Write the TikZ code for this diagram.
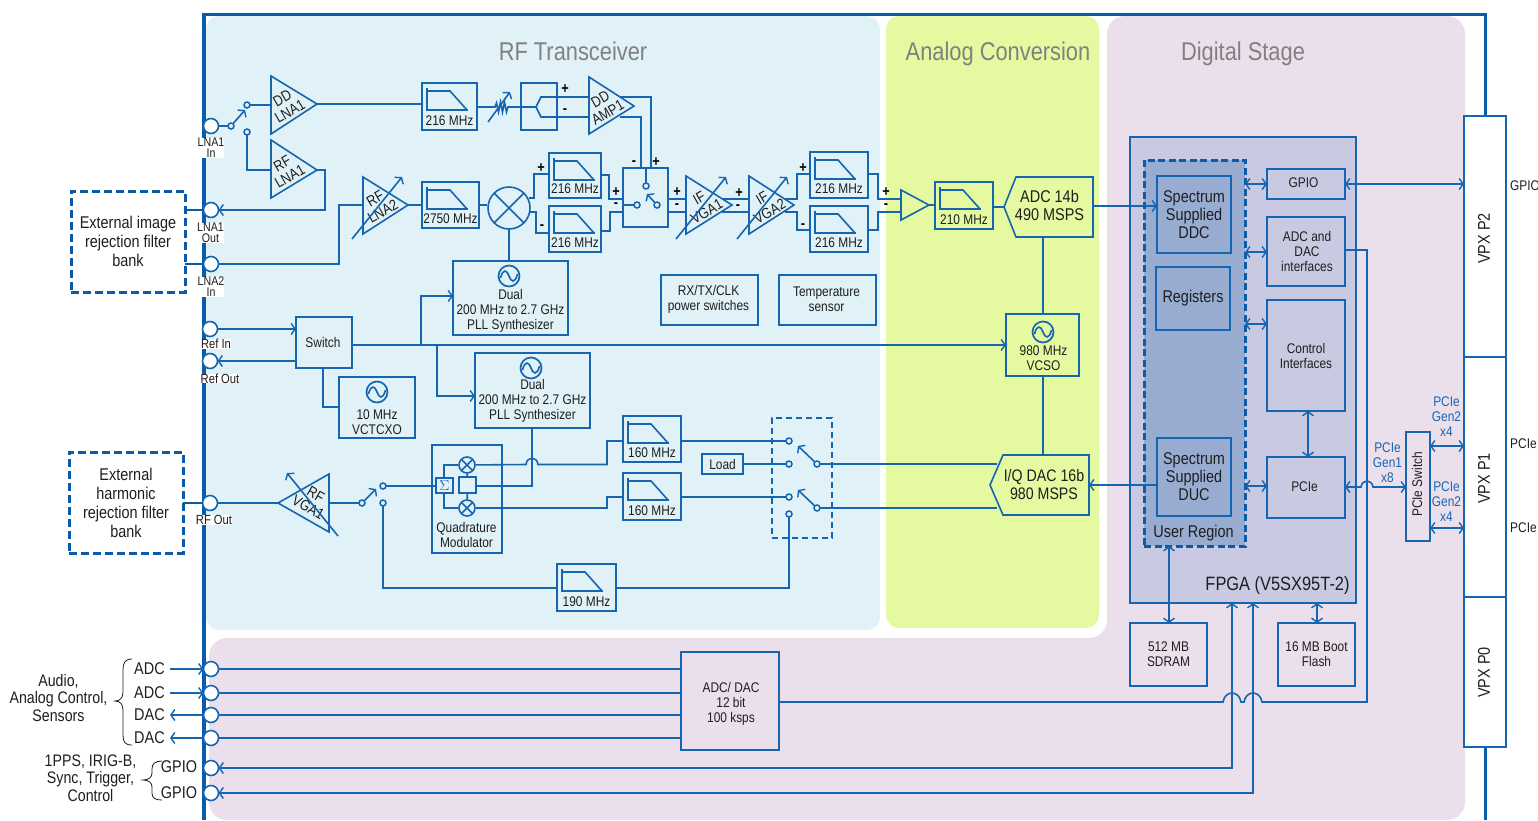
\documentclass[tikz,border=0pt]{standalone}
\usepackage{fontspec}
\setmainfont{Liberation Sans}[FakeStretch=0.85]
\usetikzlibrary{arrows.meta}
\definecolor{ln}{HTML}{1565B0}
\definecolor{fr}{HTML}{0B5BAB}
\definecolor{rfbg}{HTML}{E0F2F8}
\definecolor{acbg}{HTML}{E4F9A0}
\definecolor{dgbg}{HTML}{ECDFEC}
\definecolor{fpgabg}{HTML}{C9CAE2}
\definecolor{userbg}{HTML}{98ACD2}
\definecolor{ttl}{HTML}{808080}
\definecolor{txt}{HTML}{1E1E1E}
\newcommand\bx[7][]{\node[box,minimum width={(#5-#3)*1pt},minimum height={(#6-#4)*1pt},#1] (#2) at ({(#3+#5)/2},{(#4+#6)/2}) {#7};}
\newcommand\filt[6]{\node[box,minimum width={(#5-#3)*1pt},minimum height={(#6-#4)*1pt}] (#2) at ({(#3+#5)/2},{(#4+#6)/2}) {};
 \draw[wire] ({#3+5},{#4+5}) -- ({#3+5},{#4+27}) -- ({#3+46},{#4+27});
 \draw[wire] ({#3+5},{#4+8}) -- ({#3+28},{#4+8}) -- ({#3+45},{#4+27});
 \node[t14] (#2-l) at ({(#3+#5)/2},{#6-9.5}) {#1};}
\newcommand\ampl[6]{\draw[wire,line join=miter] (#2,#3) -- (#2,#4) -- (#5,#6) -- cycle;
 \coordinate (#1-i) at (#2,#6); \coordinate (#1-o) at (#5,#6);}
\newcommand\sinewave[3]{\node[circle,draw=ln,line width=1.7pt,minimum size=21pt,inner sep=0pt] (#1) at (#2,#3) {};
 \draw[wire] ({#2-8.5},{#3+2}) .. controls ({#2-6},{#3-8}) and ({#2-2},{#3-6}) .. (#2,#3) .. controls ({#2+2},{#3+6}) and ({#2+6},{#3+8}) .. ({#2+8.5},{#3-2});}
\newcommand\mixer[4]{\node[circle,draw=ln,line width=1.6pt,minimum size={2*#4*1pt},inner sep=0pt] (#1) at (#2,#3) {};
 \draw[wire] ({#2-0.707*#4},{#3-0.707*#4}) -- ({#2+0.707*#4},{#3+0.707*#4});
 \draw[wire] ({#2-0.707*#4},{#3+0.707*#4}) -- ({#2+0.707*#4},{#3-0.707*#4});}
\tikzset{
 wire/.style={draw=ln,line width=1.6pt,line join=miter},
 ar/.style={wire,-{Straight Barb[length=4pt,width=11pt,line width=1.4pt]}},
 dar/.style={wire,{Straight Barb[length=4pt,width=11pt,line width=1.4pt]}-{Straight Barb[length=4pt,width=11pt,line width=1.4pt]}},
 box/.style={draw=ln,line width=1.6pt,inner sep=0pt,outer sep=0pt,align=center,text=txt,font=\fontsize{14}{15}\selectfont},
 t14/.style={inner sep=0pt,align=center,text=txt,font=\fontsize{14}{15}\selectfont},
 t12/.style={inner sep=0pt,align=center,text=txt,fill=white,font=\fontsize{12.5}{11}\selectfont},
 t13w/.style={inner sep=0pt,align=center,text=txt,fill=white,font=\fontsize{13.2}{13}\selectfont},
 t17/.style={inner sep=0pt,align=center,text=txt,font=\fontsize{17}{18}\selectfont},
 amptxt/.style={inner sep=0pt,align=center,text=txt,font=\fontsize{15}{15}\selectfont},
 pm/.style={inner sep=0pt,text=black,font=\bfseries\fontsize{15}{15}\selectfont},
 title/.style={inner sep=0pt,anchor=base,text=ttl,font=\fontsize{25.7}{26}\selectfont},
 blue/.style={inner sep=0pt,align=center,text=ln,font=\fontsize{14}{15}\selectfont},
 port/.style={circle,draw=ln,line width=1.6pt,fill=white,minimum size=15pt,inner sep=0pt,outer sep=0pt},
 ct/.style={circle,draw=ln,line width=1.5pt,minimum size=6pt,inner sep=0pt,outer sep=0pt},
 brace/.style={draw=txt,line width=0.8pt},
}
\begin{document}
\begin{tikzpicture}[x=1pt,y=-1pt]
\useasboundingbox (0,0) rectangle (1538,820);
% regions
\fill[rfbg,rounded corners=13pt] (206,16) rectangle (880,630);
\fill[acbg,rounded corners=13pt] (886,16) rectangle (1099,628);
\fill[dgbg,rounded corners=18pt] (1107,16) -- (1465,16) -- (1465,820) -- (209,820) -- (209,638) -- (1107,638) -- cycle;
\fill[dgbg] (1107,56) rectangle (1120,630);
\fill[dgbg] (1100,638) rectangle (1115,660);
% frame
\draw[fr,line width=3.3pt] (204,820) -- (204,14.5) -- (1485.5,14.5) -- (1485.5,116);
\draw[fr,line width=3.3pt] (1485.5,747) -- (1485.5,820);
% titles
\node[title] (t1) at (573,60) {RF Transceiver};
\node[title] (t2) at (998,60) {Analog Conversion};
\node[title] (t3) at (1243,60) {Digital Stage};
% FPGA
\bx[fill=fpgabg]{fpga}{1130}{137}{1356}{603}{}
\node[inner sep=0pt,text=txt,font=\fontsize{19.3}{19}\selectfont,anchor=base] (fpgal) at (1277.5,590) {FPGA (V5SX95T-2)};
\bx[fill=userbg,line width=3pt,dash pattern=on 7pt off 3.5pt,draw=fr]{user}{1144}{160}{1245}{546}{}
\node[t17,anchor=base] (userl) at (1193.5,537) {User Region};
\bx[font=\fontsize{17}{18}\selectfont,text=txt]{ddc}{1157}{176}{1231}{253}{\raisebox{-1pt}{\parbox{70pt}{\centering Spectrum\\Supplied\\DDC}}}
\bx[font=\fontsize{17}{18}\selectfont]{regs}{1156}{267}{1230}{330}{Registers}
\bx[font=\fontsize{17}{18}\selectfont]{duc}{1157}{438}{1231}{516}{\raisebox{-1pt}{\parbox{70pt}{\centering Spectrum\\Supplied\\DUC}}}
\bx{gpio}{1267}{169}{1345}{199}{}
\node[t14] (gpiol) at (1303.5,182.5) {GPIO};
\bx{adcif}{1267}{217}{1345}{286}{}
\node[t14] (adcifl) at (1307,251) {ADC and\\DAC\\interfaces};
\bx{ctrl}{1267}{300}{1345}{411}{Control\\Interfaces}
\bx{pcie}{1267}{457}{1345}{518}{}
\node[t14] (pciel) at (1304.5,487) {PCIe};
\bx{sdram}{1130}{623}{1207}{686}{512 MB\\SDRAM}
\bx{flash}{1278}{623}{1355}{686}{16 MB Boot\\Flash}
% VPX
\bx[fill=white]{vp2}{1464}{116}{1506}{357}{}
\bx[fill=white]{vp1}{1464}{357}{1506}{597}{}
\bx[fill=white]{vp0}{1464}{597}{1506}{747}{}
\node[inner sep=0pt,text=txt,rotate=90,font=\fontsize{17}{17}\selectfont] (vp2l) at (1484,238.5) {VPX P2};
\node[inner sep=0pt,text=txt,rotate=90,font=\fontsize{17}{17}\selectfont] (vp1l) at (1484,478.5) {VPX P1};
\node[inner sep=0pt,text=txt,rotate=90,font=\fontsize{17}{17}\selectfont] (vp0l) at (1484,672.5) {VPX P0};
\node[t14,anchor=west] (egpio) at (1510,185.5) {GPIO};
\node[t14,anchor=west] (epcie1) at (1510,443.5) {PCIe};
\node[t14,anchor=west] (epcie2) at (1510,527.5) {PCIe};
\bx{psw}{1406}{432}{1430}{541}{}
\node[t14,rotate=90] (pswl) at (1417,484.5) {PCIe Switch};
\node[blue] (g2a) at (1446.5,416.5) {PCIe\\Gen2\\x4};
\node[blue] (g1) at (1387.5,462.5) {PCIe\\Gen1\\x8};
\node[blue] (g2b) at (1446.5,501.5) {PCIe\\Gen2\\x4};
% FPGA links
\draw[dar] (user.east |- gpio) -- (gpio.west);
\draw[dar] (user.east |- 0,252) -- (adcif.west |- 0,252);
\draw[dar] (user.east |- 0,324) -- (ctrl.west |- 0,324);
\draw[dar] (user.east |- 0,486) -- (pcie.west |- 0,486);
\draw[dar] (ctrl.south -| 1308,0) -- (pcie.north -| 1308,0);
\draw[dar] (gpio.east |- 0,184) -- (vp2.west |- 0,184);
\draw[dar] (pcie.east |- 0,487) -- (1361,487) .. controls (1362,479) and (1372,479) .. (1373,487) -- (psw.west |- 0,487);
\draw[dar] (psw.east |- 0,446) -- (vp1.west |- 0,446);
\draw[dar] (psw.east |- 0,528) -- (vp1.west |- 0,528);
\draw[dar] (user.south -| 1169,0) -- (sdram.north -| 1169,0);
\draw[dar] (fpga.south -| 1317,0) -- (flash.north -| 1317,0);
% ports
\node[port] (lna1in) at (211,126) {};
\node[port] (lna1out) at (211,210) {};
\node[port] (lna2in) at (211,264) {};
\node[port] (refin) at (210,329) {};
\node[port] (refout) at (210,361) {};
\node[port] (rfout) at (210,503) {};
\node[port] (p1) at (211,669) {};
\node[port] (p2) at (211,693) {};
\node[port] (p3) at (211,715) {};
\node[port] (p4) at (211,738) {};
\node[port] (p5) at (211,768) {};
\node[port] (p6) at (211,793) {};
\node[t12] (l1) at (211,148) {LNA1\\In};
\node[t12] (l2) at (210.5,233) {LNA1\\Out};
\node[t12] (l3) at (211,287) {LNA2\\In};
\node[t13w] (l4) at (216,344) {Ref In};
\node[t13w] (l5) at (220,378.5) {Ref Out};
\node[t13w] (l6) at (214,520) {RF Out};
% external boxes
\bx[line width=3pt,draw=fr,dash pattern=on 8pt off 4pt,font=\fontsize{17}{19}\selectfont]{ext1}{71}{191}{185}{292}{\raisebox{-1pt}{\parbox{110pt}{\centering External image\\rejection filter\\bank}}}
\bx[line width=3pt,draw=fr,dash pattern=on 8pt off 4pt,font=\fontsize{17}{19}\selectfont]{ext2}{69}{452}{183}{553}{\raisebox{-1pt}{\parbox{110pt}{\centering External\\harmonic\\rejection filter\\bank}}}
\draw[fr,line width=2pt] (ext1.east |- lna1out) -- (lna1out);
\draw[fr,line width=2pt] (ext1.east |- lna2in) -- (lna2in);
\draw[fr,line width=2pt] (ext2.east |- rfout) -- (rfout);
% LNA1 path
\node[ct] (sw1p) at (231,126) {};
\node[ct] (sw1a) at (247,105) {};
\node[ct] (sw1b) at (247,132) {};
\coordinate (sw1t) at (245,110);
\draw[wire] (lna1in) -- (sw1p);
\draw[ar] (sw1p) -- (sw1t);
\ampl{ddlna}{271}{76}{134}{317}{104}
\node[amptxt,rotate=30] (ddlnal) at (286,105) {DD\\LNA1};
\ampl{rflna}{271}{140}{198}{317}{170}
\node[amptxt,rotate=30] (rflnal) at (286,170) {RF\\LNA1};
\draw[wire] (sw1a) -- (ddlna-i |- sw1a);
\draw[wire] (sw1b) |- (rflna-i);
\filt{216 MHz}{f1}{422}{83}{477}{130}
\draw[wire] (ddlna-o) -- (f1.west |- ddlna-o);
\draw[ar] (rflna-o) -- (325,170) |- (lna1out);
% attenuator + balun
\bx{bal}{521}{83}{557}{130}{}
\coordinate (atb) at (489,107);
\draw[wire] (f1.east |- atb) -- (495,107) -- (496.5,103) -- (498.5,112) -- (500.5,102) -- (502.5,112) -- (504.5,102) -- (506.5,112) -- (508,107) -- (bal.west |- atb);
\draw[ar] (488,122) -- (510,92);
\coordinate (balc) at (536,107);
\ampl{amp1}{589}{77}{134}{634}{106}
\node[amptxt,rotate=30] (amp1l) at (604,106) {DD\\AMP1};
\draw[wire] (bal.west |- balc) -- (balc) -- (541,97) -- (amp1-i |- 0,97);
\draw[wire] (balc) -- (541,117) -- (amp1-i |- 0,117);
\node[pm] (bp) at (565,89) {+};
\node[pm] (bm) at (565,111) {-};
% LNA2
\ampl{lna2}{363}{177}{234}{408}{205}
\node[amptxt,rotate=30] (lna2l) at (379,205) {RF\\LNA2};
\draw[ar] (352,239) -- (402,177);
\draw[wire] (lna2in) -| (339,205) -- (lna2-i);
\filt{2750 MHz}{f2}{422}{182}{479}{228}
\draw[wire] (lna2-o) -- (f2.west |- lna2-o);
\mixer{mix}{509}{208}{21}
\draw[wire] (f2.east |- 0,205) -- (mix.west |- 0,205);
\filt{216 MHz}{fa}{549}{153}{601}{198}
\filt{216 MHz}{fb}{549}{206}{601}{252}
\draw[wire] (mix.center |- 0,198) ++(20,0) -- (534,198) -- (534,174) -- (fa.west |- 0,174);
\draw[wire] (mix.center |- 0,212) ++(20,0) -- (536,212) -- (536,233) -- (fb.west |- 0,233);
\node[pm] (ap) at (541,168) {+};
\node[pm] (am) at (542,227) {-};
% IF switch
\bx{ifsw}{623}{168}{668}{227}{}
\node[ct] (is1) at (646,186) {};
\node[ct] (is2) at (637,205) {};
\node[ct] (isp) at (657,205) {};
\draw[wire] (ifsw.north -| is1) -- (is1);
\draw[wire] (ifsw.west |- is2) -- (is2);
\draw[ar] (isp) -- (647,194);
\draw[wire] (fa.east |- 0,175) -- (609,175) -- (609,199) -- (ifsw.west |- 0,199);
\draw[wire] (fb.east |- 0,231) -- (610,231) -- (610,212) -- (ifsw.west |- 0,212);
\node[pm] (c1) at (616,192) {+};
\node[pm] (c2) at (616,205) {-};
\draw[wire] (amp1-o) ++(-14,-9) -- (651,97) -- (ifsw.north -| 651,0);
\draw[wire] (amp1-o) ++(-14,11) -- (641,117) -- (ifsw.north -| 641,0);
\node[pm] (c3) at (634,163) {-};
\node[pm] (c4) at (656,162) {+};
% IF VGAs
\ampl{v1}{686}{176}{234}{732}{205}
\node[amptxt,rotate=30] (v1l) at (703,205) {IF\\VGA1};
\draw[ar] (676,239) -- (726,177);
\ampl{v2}{749}{176}{234}{794}{205}
\node[amptxt,rotate=30] (v2l) at (766,205) {IF\\VGA2};
\draw[ar] (737,239) -- (787,177);
\draw[wire] (ifsw.east |- 0,199) -- (v1-i |- 0,199);
\draw[wire] (ifsw.east |- 0,212) -- (v1-i |- 0,212);
\node[pm] (d1) at (677,192) {+};
\node[pm] (d2) at (677,206) {-};
\draw[wire] (722,199) -- (v2-i |- 0,199);
\draw[wire] (722,212) -- (v2-i |- 0,212);
\node[pm] (d3) at (739,193) {+};
\node[pm] (d4) at (738,207) {-};
\filt{216 MHz}{fc}{810}{152}{868}{198}
\filt{216 MHz}{fd}{810}{206}{868}{252}
\draw[wire] (785,199) -- (797,199) -- (797,174) -- (fc.west |- 0,174);
\draw[wire] (785,212) -- (797,212) -- (797,230) -- (fd.west |- 0,230);
\node[pm] (e1) at (803,168) {+};
\node[pm] (e2) at (803,226) {-};
\ampl{drv}{901}{190}{220}{929}{205}
\draw[wire] (fc.east |- 0,174) -- (878,174) -- (878,199) -- (drv-i |- 0,199);
\draw[wire] (fd.east |- 0,230) -- (878,230) -- (878,212) -- (drv-i |- 0,212);
\node[pm] (e3) at (886,192) {+};
\node[pm] (e4) at (886,206) {-};
\filt{210 MHz}{f210}{935}{182}{993}{229}
\draw[wire] (drv-o) -- (f210.west |- drv-o);
% ADC
\draw[wire] (1016,177) -- (1093,177) -- (1093,237) -- (1016,237) -- (1004,207) -- cycle;
\node[inner sep=0pt,minimum width=89pt,minimum height=60pt,align=center,text=txt,font=\fontsize{17}{18}\selectfont] (adc) at (1049.5,205) {ADC 14b\\490 MSPS};
\draw[wire] (f210.east |- 0,207) -- (1004,207);
\draw[ar] (1093,206) -- (ddc.west |- 0,206);
% synthesisers
\bx{pll1}{453}{261}{568}{335}{}
\sinewave{s1}{509}{276}
\node[t14] (pll1l) at (510.5,310.5) {Dual\\200 MHz to 2.7 GHz\\PLL Synthesizer};
\bx{pll2}{475}{353}{590}{428}{}
\sinewave{s2}{531}{368}
\node[t14] (pll2l) at (532.5,401) {Dual\\200 MHz to 2.7 GHz\\PLL Synthesizer};
\draw[wire] (mix) -- (pll1.north -| mix);
\bx{rtc}{661}{275}{758}{325}{}
\node[t14] (rtcl) at (708.5,299) {RX/TX/CLK\\power switches};
\bx{tmp}{779}{275}{876}{325}{}
\node[t14] (tmpl) at (826.5,299) {Temperature\\sensor};
\bx{sw}{296}{317}{352}{368}{}
\node[t14] (swl) at (323,342) {Switch};
\bx{tcxo}{339}{377}{415}{438}{}
\sinewave{s3}{377}{392}
\node[t14] (tcxol) at (377,422) {10 MHz\\VCTCXO};
\bx{vcso}{1006}{314}{1079}{376}{}
\sinewave{s4}{1043}{332}
\node[t14] (vcsol) at (1043.5,358.5) {980 MHz\\VCSO};
\draw[ar] (refin) -- (sw.west |- refin);
\draw[ar] (sw.west |- refout) -- (refout);
\draw[wire] (sw.south -| 323,0) |- (tcxo.west |- 0,407);
\draw[ar] (sw.east |- 0,345) -- (vcso.west |- 0,345);
\draw[ar] (421,345) |- (pll1.west |- 0,296);
\draw[ar] (437,345) |- (pll2.west |- 0,396);
\draw[wire] (vcso.north -| adc.south) ++(-6.5,0) -- (1043,237);
% DAC
\draw[wire] (1003,455) -- (1089,455) -- (1089,515) -- (1003,515) -- (990,485) -- cycle;
\node[inner sep=0pt,minimum width=99pt,minimum height=60pt,align=center,text=txt,font=\fontsize{16.7}{18}\selectfont] (dac) at (1044,484.5) {I/Q DAC 16b\\980 MSPS};
\draw[wire] (vcso.south -| 1043,0) -- (1043,455);
\draw[ar] (duc.west |- 0,485) -- (1089,485);
% Quadrature
\bx{qm}{432}{445}{502}{553}{}
\node[t14] (qml) at (466.5,535) {Quadrature\\Modulator};
\bx[text=ln,font=\fontsize{14}{14}\selectfont]{sig}{436}{478}{453}{493}{$\Sigma$}
\mixer{m1}{467}{465}{8}
\mixer{m2}{467}{508}{8}
\bx{ph}{459}{477}{476}{493}{}
\draw[wire] (sig.north -| 444,0) -- (444,465) -- (m1);
\draw[wire] (sig.south -| 444,0) -- (444,508) -- (m2);
\draw[wire] (m1) -- (ph);
\draw[wire] (m2) -- (ph);
\draw[wire] (ph.east |- 0,486) -- (532,486) -- (pll2.south -| 532,0);
\filt{160 MHz}{g1f}{623}{416}{681}{462}
\filt{160 MHz}{g2f}{623}{473}{681}{520}
\filt{190 MHz}{g3f}{557}{564}{616}{611}
\draw[wire] (m1) -- (526,464.5) .. controls (527,456) and (537,456) .. (538,464.5) -- (607,464.5) -- (607,441) -- (g1f.west |- 0,441);
\draw[wire] (m2) -- (607,508) -- (607,497) -- (g2f.west |- 0,497);
% RF out
\ampl{vga}{329}{474}{532}{278}{503}
\node[amptxt,rotate=-30] (vgal) at (312,501) {RF\\VGA1};
\draw[ar] (338,536) -- (287,473);
\draw[wire] (vga-o) -- (rfout);
\node[ct] (rp) at (362,503) {};
\node[ct] (ra) at (383,486) {};
\node[ct] (rb) at (383,503) {};
\draw[wire] (vga-i) -- (rp);
\draw[ar] (rp) -- (376,489);
\draw[wire] (ra) -- (sig.west |- ra);
\draw[wire] (rb) |- (g3f.west |- 0,588);
% output switch
\bx[dash pattern=on 6pt off 4pt]{osw}{772}{418}{832}{538}{}
\node[ct] (o1) at (789,441) {};
\node[ct] (o2) at (789,464) {};
\node[ct] (o3) at (789,497) {};
\node[ct] (o4) at (789,514) {};
\node[ct] (op1) at (817,464) {};
\node[ct] (op2) at (817,508) {};
\draw[ar] (op1) -- (798,446);
\draw[ar] (op2) -- (798,490);
\draw[wire] (g1f.east |- o1) -- (o1);
\bx{load}{702}{454}{743}{474}{Load}
\draw[wire] (load.east |- o2) -- (o2);
\draw[wire] (g2f.east |- o3) -- (o3);
\draw[wire] (g3f.east |- 0,588) -| (o4);
\draw[wire] (op1) -- (997,464);
\draw[wire] (op2) -- (997,508);
% ADC/DAC
\bx{adda}{681}{652}{779}{750}{}
\node[t14] (addal) at (731,703.5) {ADC/ DAC\\12 bit\\100 ksps};
\foreach \n in {p1,p2,p3,p4} \draw[wire] (\n) -- (adda.west |- \n);
\coordinate (s1a) at (170,669); \coordinate (s2a) at (170,693);
\coordinate (s3a) at (170,715); \coordinate (s4a) at (170,738);
\draw[ar] (s1a) -- (p1);
\draw[ar] (s2a) -- (p2);
\draw[ar] (p3) -- (s3a);
\draw[ar] (p4) -- (s4a);
\draw[dar] (p5) -| (fpga.south -| 1232,0);
\draw[dar] (p6) -| (fpga.south -| 1253,0);
\draw[wire] (adcif.east |- 0,250) -- (1367,250) -- (1367,702) -- (1262,702) .. controls (1260,690) and (1246,690) .. (1244,702) -- (1241,702) .. controls (1239,690) and (1225,690) .. (1223,702) -- (adda.east |- 0,702);
% bottom-left labels
\node[t17] (a1) at (149.5,669) {ADC};
\node[t17] (a2) at (149.5,693) {ADC};
\node[t17] (a3) at (149.5,715) {DAC};
\node[t17] (a4) at (149.5,738) {DAC};
\node[t17] (a5) at (179,767) {GPIO};
\node[t17] (a6) at (179,793) {GPIO};
\node[inner sep=0pt,align=center,text=txt,font=\fontsize{16.7}{17.5}\selectfont] (a7) at (58.5,698) {Audio,\\Analog Control,\\Sensors};
\node[inner sep=0pt,align=center,text=txt,font=\fontsize{16.7}{17.5}\selectfont] (a8) at (90.5,778) {1PPS, IRIG-B,\\Sync, Trigger,\\Control};
\draw[brace] (132,659) .. controls (125,659) and (123,663) .. (123,670) -- (123,692) .. controls (123,698) and (120,701) .. (115,701) .. controls (120,701) and (123,704) .. (123,710) -- (123,735) .. controls (123,742) and (125,745) .. (132,745);
\draw[brace] (162,761) .. controls (155,761) and (152,764) .. (152,769) -- (152,773) .. controls (152,777) and (149,780) .. (143,780) .. controls (149,780) and (152,783) .. (152,787) -- (152,793) .. controls (152,798) and (155,800) .. (162,800);
\end{tikzpicture}
\end{document}
